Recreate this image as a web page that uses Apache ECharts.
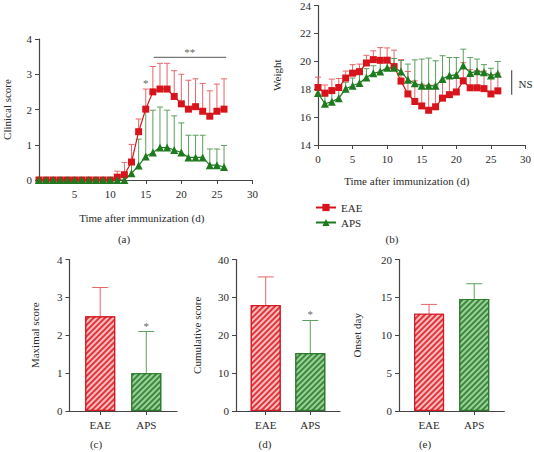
<!DOCTYPE html>
<html><head><meta charset="utf-8">
<script src="https://cdn.jsdelivr.net/npm/echarts@6/dist/echarts.min.js"></script>
<style>html,body{margin:0;padding:0;background:#fff}#c{width:534px;height:452px}</style>
</head><body><div id="c"></div>
<script>
// ---------- data ----------
const days = [0,1,2,3,4,5,6,7,8,9,10,11,12,13,14,15,16,17,18,19,20,21,22,23,24,25,26];
const clinEAE   = [0,0,0,0,0,0,0,0,0,0,0,0.08,0.15,0.51,1.37,2.01,2.5,2.58,2.58,2.37,2.16,2.01,2.08,1.95,1.81,1.95,2.01];
const clinEAEUp = [0,0,0,0,0,0,0,0,0,0,0,0.25,0.5,1.01,1.73,2.58,3.22,3.31,3.31,3.1,3.0,2.83,2.87,2.74,2.53,2.72,2.87];
const clinAPS   = [0,0,0,0,0,0,0,0,0,0,0,0,0,0.19,0.41,0.67,0.78,0.92,0.92,0.85,0.78,0.64,0.64,0.64,0.42,0.42,0.37];
const clinAPSUp = [0,0,0,0,0,0,0,0,0,0,0,0,0,0.5,1.16,1.98,1.98,2.07,1.98,1.82,1.62,1.27,1.27,1.27,0.88,0.88,0.98];

const wtEAE   = [18.12,17.72,17.9,18.12,18.8,19.15,19.26,19.88,20.12,20.07,20.08,19.62,18.58,17.66,17.12,16.8,16.49,16.74,17.36,17.61,17.8,18.6,18.1,18.1,18.04,17.66,17.88];
const wtEAEUp = [18.86,18.3,18.72,18.77,19.3,19.76,19.8,20.43,20.75,20.98,20.96,20.8,20.12,19.27,18.6,18.35,18.3,18.3,18.6,18.8,19.0,19.9,19.4,19.35,19.3,19.0,19.15];
const wtAPS   = [17.72,16.96,17.1,17.36,18.03,18.25,18.44,18.84,19.14,19.26,19.53,19.53,19.27,18.67,18.43,18.24,18.24,18.24,18.74,18.98,19.02,19.69,19.17,19.28,19.21,18.98,19.1];
const wtAPSUp = [18.3,17.5,17.7,17.98,18.5,18.8,19.04,19.47,19.68,20.1,20.2,20.2,20.06,19.8,20.1,20.16,20.23,20.04,20.4,20.27,20.27,20.87,20.27,20.16,19.76,19.5,19.99];

const groups = ['EAE','APS'];
const groupPos = [1, 2];
const maxScore   = [2.5, 1.0];
const maxScoreUp = [3.26, 2.1];
const cumScore   = [28, 15.3];
const cumScoreUp = [35.4, 23.9];
const onsetDay   = [12.85, 14.8];
const onsetDayUp = [14.07, 16.8];

const clinXTicks = [0,5,10,15,20,25,30];
const clinYTicks = [0,1,2,3,4];
const wtXTicks = [0,5,10,15,20,25,30];
const wtYTicks = [14,16,18,20,22,24];
const maxYTicks = [0,1,2,3,4];
const cumYTicks = [0,10,20,30,40];
const onsetYTicks = [0,5,10,15,20];

// annotations: [x, y, text]
const clinStars = [[15, 2.74, '*'], [21.2, 3.64, '**']];
const clinBracket = [[16.1, 26.3, 3.48]];
const wtNS = [[29.0, 18.38, 'NS']];
const wtBracket = [[28, 17.6, 19.35]];
const maxStars = [[2, 2.24, '*']];
const cumStars = [[2, 25.6, '*']];

// ---------- style ----------
const FONT = '"Liberation Serif","Times New Roman",serif';
const RED = '#d7141b', RED_ERR = '#e8646a', RED_BAR = '#e0353b';
const GREEN = '#1e7a1e', GREEN_ERR = '#5b9f5b', GREEN_BAR = '#3a8a3a';
const AX = '#444', TXT = '#2a2a2a';
const TS = {fontFamily: FONT, fontSize: 11, color: TXT, fontWeight: 'normal'};

function xAxisVal(gi, ticks, opts) {
  return Object.assign({
    type: 'value', gridIndex: gi,
    min: ticks[0], max: ticks[ticks.length-1], interval: ticks[1]-ticks[0],
    axisLine: {show: true, onZero: false, lineStyle: {color: AX, width: 1.2}},
    axisTick: {show: true, length: 4, lineStyle: {color: AX}},
    axisLabel: Object.assign({margin: 8}, TS),
    splitLine: {show: false},
    nameLocation: 'middle',
    nameTextStyle: Object.assign({}, TS)
  }, opts || {});
}
function yAxisVal(gi, ticks, name, gap) {
  return {
    type: 'value', gridIndex: gi,
    min: ticks[0], max: ticks[ticks.length-1], interval: ticks[1]-ticks[0],
    axisLine: {show: true, onZero: false, lineStyle: {color: AX, width: 1.2}},
    axisTick: {show: true, length: 4, lineStyle: {color: AX}},
    axisLabel: Object.assign({margin: 7}, TS),
    splitLine: {show: false},
    name: name, nameLocation: 'middle', nameGap: gap,
    nameTextStyle: Object.assign({}, TS)
  };
}
function catAxis(gi) {
  return {
    type: 'value', gridIndex: gi, min: 1/3, max: 8/3,
    axisLine: {show: true, onZero: false, lineStyle: {color: AX, width: 1.2}},
    axisTick: {show: true, length: 4, customValues: groupPos, lineStyle: {color: AX}},
    axisLabel: Object.assign({margin: 8, customValues: groupPos,
      formatter: v => groups[groupPos.indexOf(Math.round(v))] || ''}, TS),
    splitLine: {show: false}
  };
}
function errSeries(xi, xs, ys, ups, colors, capW, z) {
  return {
    type: 'custom', xAxisIndex: xi, yAxisIndex: xi, silent: true, z: z,
    data: xs.map((x, i) => [x, ys[i], ups[i]]),
    renderItem: (params, api) => {
      const x = api.value(0), y0 = api.value(1), y1 = api.value(2);
      if (!(y1 > y0)) return null;
      const color = Array.isArray(colors) ? colors[params.dataIndex] : colors;
      const p0 = api.coord([x, y0]), p1 = api.coord([x, y1]);
      const st = {stroke: color, lineWidth: 1};
      return {type: 'group', children: [
        {type: 'line', shape: {x1: p0[0], y1: p0[1], x2: p1[0], y2: p1[1]}, style: st},
        {type: 'line', shape: {x1: p1[0]-capW/2, y1: p1[1], x2: p1[0]+capW/2, y2: p1[1]}, style: st}
      ]};
    }
  };
}
function textSeries(xi, arr, align, size) {
  return {
    type: 'custom', xAxisIndex: xi, yAxisIndex: xi, silent: true, z: 10,
    data: arr.map(a => [a[0], a[1]]),
    renderItem: (params, api) => {
      const p = api.coord([api.value(0), api.value(1)]);
      return {type: 'text', x: p[0], y: p[1], style: {text: arr[params.dataIndex][2], fill: align === 'left' ? TXT : '#666',
        font: (size||11) + 'px ' + FONT, align: align || 'center', verticalAlign: 'middle'}};
    }
  };
}
function hBracket(xi, arr) {
  return {
    type: 'custom', xAxisIndex: xi, yAxisIndex: xi, silent: true, z: 10,
    data: arr,
    renderItem: (params, api) => {
      const a = api.coord([api.value(0), api.value(2)]), b = api.coord([api.value(1), api.value(2)]);
      return {type: 'line', shape: {x1: a[0], y1: a[1], x2: b[0], y2: b[1]}, style: {stroke: '#777', lineWidth: 1.2}};
    }
  };
}
function vBracket(xi, arr) {
  return {
    type: 'custom', xAxisIndex: xi, yAxisIndex: xi, silent: true, z: 10,
    data: arr,
    renderItem: (params, api) => {
      const a = api.coord([api.value(0), api.value(1)]), b = api.coord([api.value(0), api.value(2)]);
      return {type: 'line', shape: {x1: a[0], y1: a[1], x2: b[0], y2: b[1]}, style: {stroke: '#555', lineWidth: 1.2}};
    }
  };
}
function lineSeries(xi, name, ys, color, symbol, size) {
  return {
    type: 'line', name: name, xAxisIndex: xi, yAxisIndex: xi, z: 5,
    data: days.map((d, i) => [d, ys[i]]),
    symbol: symbol, symbolSize: size, showSymbol: true,
    lineStyle: {color: color, width: 1.2}, itemStyle: {color: color},
    emphasis: {disabled: true}, animation: false
  };
}
function decal(c) {
  return {symbol: 'rect', symbolSize: 1, color: c, dashArrayX: [1, 0], dashArrayY: [1.5, 1.6], rotation: -Math.PI/4};
}
function barSeries(xi, vals) {
  return {
    type: 'bar', xAxisIndex: xi, yAxisIndex: xi, barWidth: 30, z: 2,
    data: vals.map((v, i) => ({
      value: [groupPos[i], v],
      itemStyle: i === 0
        ? {color: RED_BAR, borderColor: '#d61a22', borderWidth: 1.2, decal: decal('rgba(255,225,225,0.8)')}
        : {color: GREEN_BAR, borderColor: '#2c7a2c', borderWidth: 1.2, decal: decal('rgba(190,230,190,0.75)')}
    })),
    emphasis: {disabled: true}, animation: false
  };
}

const chart = echarts.init(document.getElementById('c'), null, {renderer: 'svg'});
const barErrColors = [RED_ERR, GREEN_ERR];
const option = {
  animation: false,
  backgroundColor: '#fff',
  textStyle: {fontFamily: FONT},
  grid: [
    {left: 39, top: 39, width: 213.5, height: 141},
    {left: 318, top: 4, width: 209.6, height: 141},
    {left: 69.5, top: 259.5, width: 107.5, height: 151.5},
    {left: 236, top: 259.5, width: 104, height: 151.5},
    {left: 399, top: 259.5, width: 105.3, height: 151.5}
  ],
  xAxis: [
    xAxisVal(0, clinXTicks, {name: 'Time after immunization (d)', nameGap: 32,
      axisLabel: Object.assign({margin: 8, formatter: v => v === 0 ? '' : String(v)}, TS),
      nameTextStyle: Object.assign({padding: [0, 8, 0, 0]}, TS)}),
    xAxisVal(1, wtXTicks, {name: 'Time after immunization (d)', nameGap: 30,
      nameTextStyle: Object.assign({padding: [0, 30, 0, 0]}, TS)}),
    catAxis(2), catAxis(3), catAxis(4)
  ],
  yAxis: [
    yAxisVal(0, clinYTicks, 'Clinical score', 27),
    yAxisVal(1, wtYTicks, 'Weight', 36),
    yAxisVal(2, maxYTicks, 'Maximal score', 29),
    yAxisVal(3, cumYTicks, 'Cumulative score', 34),
    yAxisVal(4, onsetYTicks, 'Onset day', 37)
  ],
  legend: {
    data: ['EAE', 'APS'], orient: 'vertical', left: 310, top: 197,
    itemWidth: 20, itemHeight: 9, itemGap: 4,
    textStyle: Object.assign({lineHeight: 11}, TS),
    selectedMode: false
  },
  graphic: [
    {type: 'text', x: 124, y: 239, style: {text: '(a)', font: '11px ' + FONT, fill: TXT, align: 'center', verticalAlign: 'middle'}},
    {type: 'text', x: 392, y: 239, style: {text: '(b)', font: '11px ' + FONT, fill: TXT, align: 'center', verticalAlign: 'middle'}},
    {type: 'text', x: 96, y: 444, style: {text: '(c)', font: '11px ' + FONT, fill: TXT, align: 'center', verticalAlign: 'middle'}},
    {type: 'text', x: 265, y: 444, style: {text: '(d)', font: '11px ' + FONT, fill: TXT, align: 'center', verticalAlign: 'middle'}},
    {type: 'text', x: 425, y: 444, style: {text: '(e)', font: '11px ' + FONT, fill: TXT, align: 'center', verticalAlign: 'middle'}}
  ],
  series: [
    errSeries(0, days, clinEAE, clinEAEUp, RED_ERR, 6, 3),
    errSeries(0, days, clinAPS, clinAPSUp, GREEN_ERR, 6, 3),
    lineSeries(0, 'EAE', clinEAE, RED, 'rect', 7),
    lineSeries(0, 'APS', clinAPS, GREEN, 'triangle', 8),
    textSeries(0, clinStars),
    hBracket(0, clinBracket),

    errSeries(1, days, wtEAE, wtEAEUp, RED_ERR, 6, 3),
    errSeries(1, days, wtAPS, wtAPSUp, GREEN_ERR, 6, 3),
    lineSeries(1, 'EAE', wtEAE, RED, 'rect', 7),
    lineSeries(1, 'APS', wtAPS, GREEN, 'triangle', 8),
    vBracket(1, wtBracket),
    textSeries(1, wtNS, 'left', 11),

    barSeries(2, maxScore),
    errSeries(2, groupPos, maxScore, maxScoreUp, barErrColors, 16, 1),
    textSeries(2, maxStars),
    barSeries(3, cumScore),
    errSeries(3, groupPos, cumScore, cumScoreUp, barErrColors, 16, 1),
    textSeries(3, cumStars),
    barSeries(4, onsetDay),
    errSeries(4, groupPos, onsetDay, onsetDayUp, barErrColors, 16, 1)
  ]
};
chart.setOption(option);
</script>
</body></html>
